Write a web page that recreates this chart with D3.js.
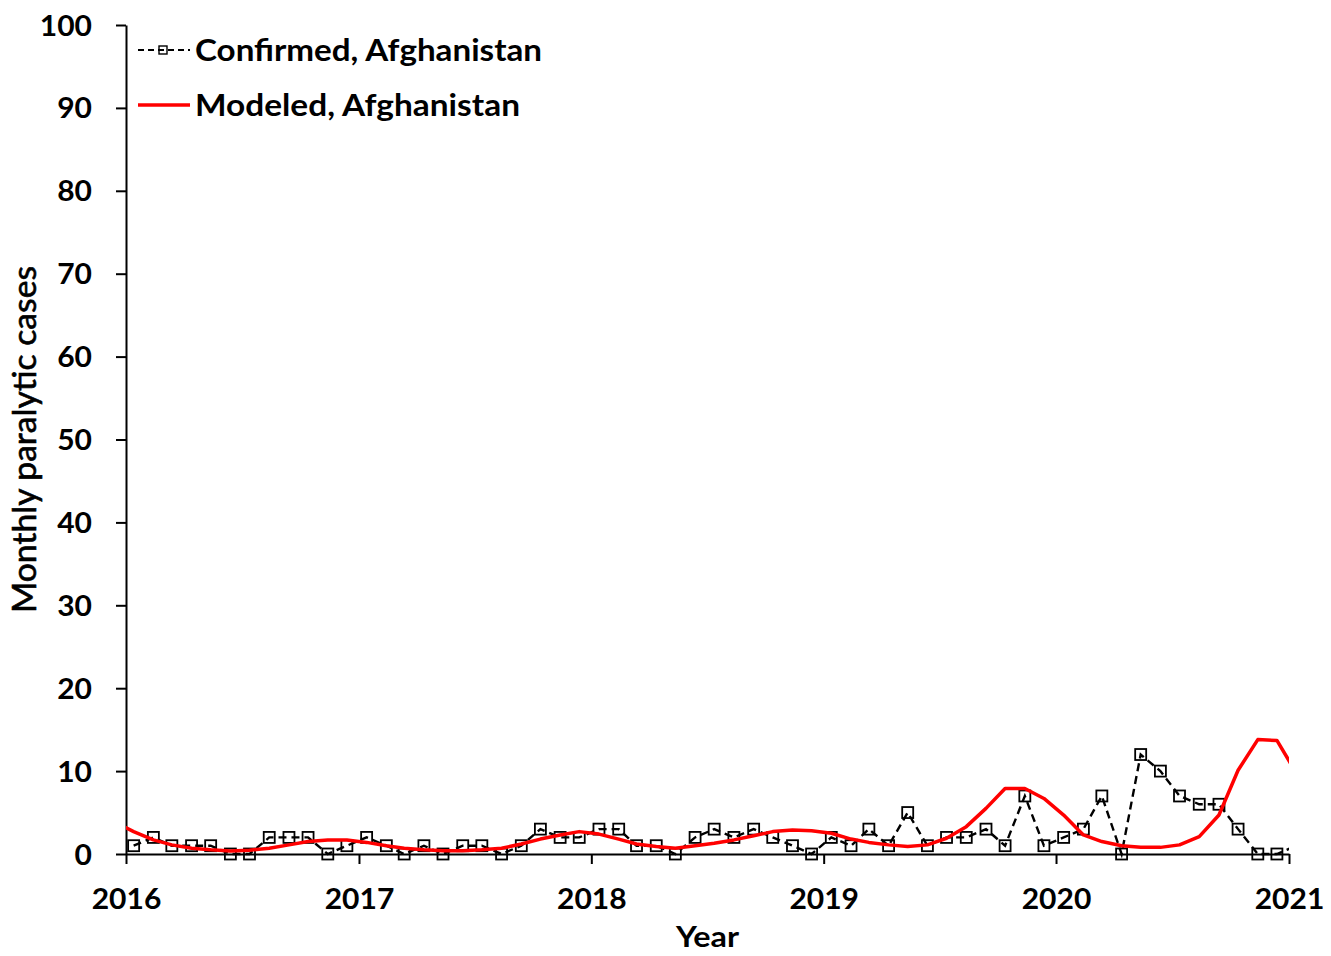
<!DOCTYPE html>
<html>
<head>
<meta charset="utf-8">
<script src="https://cdn.jsdelivr.net/npm/d3@7"></script>
<style>
  body { margin: 0; background: #fff; }
  svg { display: block; }
  text { font-family: Lato, "Open Sans", sans-serif; fill: #000; }
</style>
</head>
<body>
<div id="chart"></div>
<script>
// Monthly confirmed paralytic cases, Afghanistan (Jan 2016 .. Jan 2021)
const confirmedMonths = [
  "2016-01","2016-02","2016-03","2016-04","2016-05","2016-06","2016-07","2016-08","2016-09","2016-10","2016-11","2016-12",
  "2017-01","2017-02","2017-03","2017-04","2017-05","2017-06","2017-07","2017-08","2017-09","2017-10","2017-11","2017-12",
  "2018-01","2018-02","2018-03","2018-04","2018-05","2018-06","2018-07","2018-08","2018-09","2018-10","2018-11","2018-12",
  "2019-01","2019-02","2019-03","2019-04","2019-05","2019-06","2019-07","2019-08","2019-09","2019-10","2019-11","2019-12",
  "2020-01","2020-02","2020-03","2020-04","2020-05","2020-06","2020-07","2020-08","2020-09","2020-10","2020-11","2020-12",
  "2021-01"
];
const confirmedCases = [
  1, 2, 1, 1, 1, 0, 0, 2, 2, 2, 0, 1,
  2, 1, 0, 1, 0, 1, 1, 0, 1, 3, 2, 2,
  3, 3, 1, 1, 0, 2, 3, 2, 3, 2, 1, 0,
  2, 1, 3, 1, 5, 1, 2, 2, 3, 1, 7, 1,
  2, 3, 7, 0, 12, 10, 7, 6, 6, 3, 0, 0,
  1
];

// Modeled monthly paralytic cases (Dec 2015 .. Jan 2021)
const modeledMonths = ["2015-12"].concat(confirmedMonths);
const modeledCases = [
  3.9,
  2.7, 1.7, 1.1, 0.7, 0.5, 0.35, 0.45, 0.7, 1.1, 1.5, 1.7, 1.7,
  1.4, 1.0, 0.7, 0.5, 0.4, 0.4, 0.5, 0.7, 1.2, 1.8, 2.3, 2.7,
  2.4, 1.8, 1.2, 0.9, 0.7, 1.0, 1.3, 1.7, 2.2, 2.7, 2.9, 2.8,
  2.5, 1.8, 1.4, 1.1, 0.9, 1.1, 1.9, 3.3, 5.5, 7.9, 7.9, 6.7,
  4.7, 2.3, 1.5, 1.0, 0.8, 0.8, 1.1, 2.1, 4.7, 10.1, 13.8, 13.7,
  9.7
];

const yTicks = [0, 10, 20, 30, 40, 50, 60, 70, 80, 90, 100];
const xTickYears = [2016, 2017, 2018, 2019, 2020, 2021];
const seriesNames = ["Confirmed, Afghanistan", "Modeled, Afghanistan"];

const W = 1331, H = 956;
const margin = { top: 25, right: 42, bottom: 102, left: 126 };
const width = W - margin.left - margin.right,
      height = H - margin.top - margin.bottom;

const parseMonth = d3.timeParse("%Y-%m");
// points sit a little into each month
const monthPos = s => d3.timeDay.offset(parseMonth(s), 12);

const svg = d3.select("#chart").append("svg")
    .attr("width", W)
    .attr("height", H);

const g = svg.append("g")
    .attr("transform", `translate(${margin.left},${margin.top})`);

const x = d3.scaleTime()
    .domain([new Date(2016, 0, 1), new Date(2021, 0, 1)])
    .range([0, width]);

const y = d3.scaleLinear()
    .domain([0, 100])
    .range([height, 0]);

svg.append("defs").append("clipPath")
    .attr("id", "plot-clip")
    .append("rect")
    .attr("x", 0).attr("y", -10)
    .attr("width", width).attr("height", height + 20);

// X axis
const xAxis = g.append("g")
    .attr("transform", `translate(0,${height})`)
    .call(d3.axisBottom(x)
        .tickValues(xTickYears.map(yr => new Date(yr, 0, 1)))
        .tickFormat(d3.timeFormat("%Y"))
        .tickSize(10)
        .tickSizeOuter(0)
        .tickPadding(25));

// Y axis
const yAxis = g.append("g")
    .call(d3.axisLeft(y)
        .tickValues(yTicks)
        .tickSize(10)
        .tickSizeOuter(0)
        .tickPadding(24));

[xAxis, yAxis].forEach(ax => {
  ax.select(".domain").attr("stroke", "#000").attr("stroke-width", 2);
  ax.selectAll(".tick line").attr("stroke", "#000").attr("stroke-width", 2);
  ax.selectAll(".tick text")
      .style("font-family", "Lato, sans-serif")
      .style("font-weight", 700)
      .style("font-size", "28px")
      .attr("fill", "#000")
      .attr("textLength", function () { return this.textContent.length * 17.4; })
      .attr("lengthAdjust", "spacingAndGlyphs");
});
yAxis.selectAll(".tick text").attr("dy", "0.36em");

// Axis titles
svg.append("text")
    .attr("x", margin.left + width / 2)
    .attr("y", 947)
    .attr("text-anchor", "middle")
    .style("font-weight", 700)
    .style("font-size", "28px")
    .attr("textLength", 63)
    .attr("lengthAdjust", "spacingAndGlyphs")
    .text("Year");

svg.append("text")
    .attr("transform", `translate(36,${margin.top + height / 2}) rotate(-90)`)
    .attr("text-anchor", "middle")
    .style("font-size", "32px")
    .attr("stroke", "#000")
    .attr("stroke-width", 0.6)
    .attr("textLength", 347)
    .attr("lengthAdjust", "spacingAndGlyphs")
    .text("Monthly paralytic cases");

// Series
const plot = g.append("g").attr("clip-path", "url(#plot-clip)");

const modeled = modeledMonths.map((m, i) => ({ date: monthPos(m), value: modeledCases[i] }));
const confirmed = confirmedMonths.map((m, i) => ({ date: monthPos(m), value: confirmedCases[i] }));

const line = d3.line()
    .x(d => x(d.date))
    .y(d => y(d.value));

plot.append("path")
    .datum(confirmed)
    .attr("fill", "none")
    .attr("stroke", "#000")
    .attr("stroke-width", 2.4)
    .attr("stroke-dasharray", "8,5")
    .attr("d", line);

const sq = 11;
plot.selectAll("rect.marker")
    .data(confirmed)
    .enter()
    .append("rect")
    .attr("class", "marker")
    .attr("x", d => x(d.date) - sq / 2)
    .attr("y", d => y(d.value) - sq / 2)
    .attr("width", sq)
    .attr("height", sq)
    .attr("fill", "none")
    .attr("stroke", "#000")
    .attr("stroke-width", 1.8);

plot.append("path")
    .datum(modeled)
    .attr("fill", "none")
    .attr("stroke", "#ff0000")
    .attr("stroke-width", 3.5)
    .attr("stroke-linejoin", "round")
    .attr("d", line);

// Legend
const legend = svg.append("g").attr("transform", "translate(138,0)");
const rowY = [50, 105];

legend.append("line")
    .attr("x1", 0).attr("x2", 52)
    .attr("y1", rowY[0]).attr("y2", rowY[0])
    .attr("stroke", "#000")
    .attr("stroke-width", 2.2)
    .attr("stroke-dasharray", "6,4");
legend.append("rect")
    .attr("x", 25 - 4).attr("y", rowY[0] - 4)
    .attr("width", 8).attr("height", 8)
    .attr("fill", "none")
    .attr("stroke", "#000")
    .attr("stroke-width", 1.4);

legend.append("line")
    .attr("x1", 0).attr("x2", 52)
    .attr("y1", rowY[1]).attr("y2", rowY[1])
    .attr("stroke", "#ff0000")
    .attr("stroke-width", 3.5);

const legendWidths = [347, 325];
legend.selectAll("text.legend")
    .data(seriesNames)
    .enter()
    .append("text")
    .attr("class", "legend")
    .attr("x", 57)
    .attr("y", (d, i) => rowY[i] + 11)
    .style("font-weight", 700)
    .style("font-size", "30px")
    .attr("textLength", (d, i) => legendWidths[i])
    .attr("lengthAdjust", "spacingAndGlyphs")
    .text(d => d);
</script>
</body>
</html>
